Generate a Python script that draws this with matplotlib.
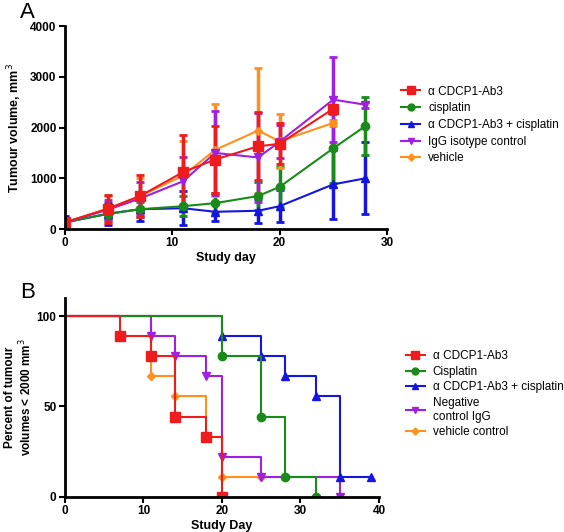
import numpy as np
import matplotlib.pyplot as plt
from matplotlib.lines import Line2D

plt.rcParams['font.family'] = ['Liberation Sans', 'DejaVu Sans']

# Panel A: tumour growth (mean +/- sd)
days = [0, 4, 7, 11, 14, 18, 20, 25, 28]

ab3_mean = [130, 400, 650, 1120, 1370, 1630, 1680, 2370]
ab3_sd = [60, 280, 420, 740, 660, 670, 400, 80]

cis_mean = [130, 300, 390, 450, 510, 650, 830, 1590, 2030]
cis_sd = [50, 120, 150, 200, 200, 280, 400, 680, 580]

combo_mean = [130, 300, 390, 410, 340, 360, 450, 880, 1000]
combo_sd = [120, 220, 230, 340, 190, 240, 320, 680, 710]

igg_mean = [130, 380, 600, 940, 1500, 1410, 1720, 2550, 2450]
igg_sd = [60, 200, 330, 470, 830, 870, 330, 840, 60]

veh_mean = [130, 400, 650, 1050, 1560, 1940, 1730, 2090]
veh_sd = [60, 260, 350, 680, 900, 1230, 530, 60]

labels_a = ['\u03b1 CDCP1-Ab3', 'cisplatin', '\u03b1 CDCP1-Ab3 + cisplatin',
            'IgG isotype control', 'vehicle']

# Panel B: percent of tumours < 2000 mm3 (step survival curves)
ab3_t = [0, 7, 11, 14, 18, 20]
ab3_p = [100, 88.9, 77.8, 44.4, 33.3, 0]
cis_t = [0, 20, 25, 28, 32]
cis_p = [100, 77.8, 44.4, 11.1, 0]
combo_t = [0, 20, 25, 28, 32, 35, 39]
combo_p = [100, 88.9, 77.8, 66.7, 55.6, 11.1, 11.1]
igg_t = [0, 11, 14, 18, 20, 25, 35]
igg_p = [100, 88.9, 77.8, 66.7, 22.2, 11.1, 0]
veh_t = [0, 11, 14, 18, 20, 25]
veh_p = [100, 66.7, 55.6, 33.3, 11.1, 11.1]

labels_b = ['\u03b1 CDCP1-Ab3', 'Cisplatin', '\u03b1 CDCP1-Ab3 + cisplatin',
            'Negative\ncontrol IgG', 'vehicle control']

colors = ['#ee1c1c', '#1a8a1a', '#1515e0', '#a020e0', '#ff9020']
markers = ['s', 'o', '^', 'v', 'D']
msizes = [6, 5, 5, 5, 3.5]

fig = plt.figure(figsize=(5.64, 5.32), dpi=100)

# ---- Panel A ----
axA = fig.add_axes([0.115, 0.5695, 0.571, 0.3815])
order = [2, 1, 4, 3, 0]
series = [(ab3_mean, ab3_sd), (cis_mean, cis_sd), (combo_mean, combo_sd),
          (igg_mean, igg_sd), (veh_mean, veh_sd)]
for i in order:
    m, s = series[i]
    d = days[:len(m)]
    axA.errorbar(d, m, yerr=s, color=colors[i], marker=markers[i],
                 markersize=msizes[i] + 1, linewidth=1.5, elinewidth=2.5,
                 capsize=3, capthick=2)
ha = [Line2D([], [], color=colors[i], marker=markers[i], markersize=msizes[i],
             linewidth=1.5) for i in range(5)]
axA.set_xlim(0, 30)
axA.set_ylim(0, 4000)
axA.set_xticks([0, 10, 20, 30])
axA.set_yticks([0, 1000, 2000, 3000, 4000])
axA.set_xlabel('Study day', fontsize=9, fontweight='bold', labelpad=2)
axA.set_ylabel('Tumour volume, mm$^3$', fontsize=9, fontweight='bold')
axA.legend(ha, labels_a, loc='upper left', bbox_to_anchor=(1.03, 0.73),
           frameon=False, fontsize=8.5, handlelength=1.6, labelspacing=0.4,
           borderaxespad=0, handletextpad=0.7)
fig.text(0.035, 0.967, 'A', fontsize=16)

# ---- Panel B ----
axB = fig.add_axes([0.115, 0.066, 0.557, 0.374])
curves = [(ab3_t, ab3_p), (cis_t, cis_p), (combo_t, combo_p),
          (igg_t, igg_p), (veh_t, veh_p)]
for i in [4, 3, 2, 1, 0]:
    t, p = curves[i]
    axB.step(t, p, where='post', color=colors[i], linewidth=1.5)
    axB.plot(t[1:], p[1:], linestyle='none', marker=markers[i],
             markersize=msizes[i] + 1, color=colors[i])
hb = [Line2D([], [], color=colors[i], marker=markers[i], markersize=msizes[i],
             linewidth=1.5) for i in range(5)]
axB.set_xlim(0, 40)
axB.set_ylim(0, 110)
axB.set_xticks([0, 10, 20, 30, 40])
axB.set_yticks([0, 50, 100])
axB.set_xlabel('Study Day', fontsize=9, fontweight='bold', labelpad=2)
axB.set_ylabel('Percent of tumour\nvolumes < 2000 mm$^3$', fontsize=8.5,
               fontweight='bold', labelpad=2, linespacing=1.1)
axB.legend(hb, labels_b, loc='upper left', bbox_to_anchor=(1.07, 0.76),
           frameon=False, fontsize=8.5, handlelength=1.6, labelspacing=0.3,
           borderaxespad=0, handletextpad=0.7)
fig.text(0.035, 0.44, 'B', fontsize=16)

for ax in (axA, axB):
    for side in ('top', 'right'):
        ax.spines[side].set_visible(False)
    for side in ('left', 'bottom'):
        ax.spines[side].set_linewidth(2)
    ax.tick_params(width=1.5, length=4, labelsize=8.5, pad=2)
    for lab in ax.get_xticklabels() + ax.get_yticklabels():
        lab.set_fontweight('bold')

fig.savefig('out.png', dpi=100)
